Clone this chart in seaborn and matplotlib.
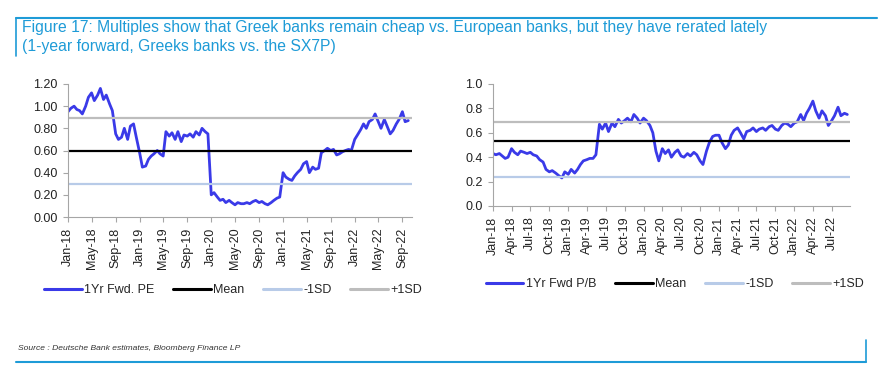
import numpy as np
import pandas as pd
import matplotlib
matplotlib.use('Agg')
import matplotlib.pyplot as plt
import matplotlib.dates as mdates
from matplotlib.lines import Line2D
from matplotlib.ticker import FormatStrFormatter
import seaborn as sns

# Greek banks vs SX7P, 1Yr forward P/E relative (semi-monthly readings)
pe_values = [
    0.95, 0.98, 1.00, 0.97, 0.96, 0.93, 1.00, 1.08, 1.12, 1.05, 1.10, 1.16,  # 2018 Jan-Jun
    1.06, 1.10, 1.02, 0.96, 0.75, 0.70, 0.72, 0.80, 0.70, 0.82, 0.84, 0.72,  # 2018 Jul-Dec
    0.58, 0.45, 0.46, 0.52, 0.55, 0.57, 0.60, 0.57, 0.55, 0.77, 0.73, 0.76,  # 2019 Jan-Jun
    0.70, 0.77, 0.68, 0.74, 0.73, 0.75, 0.72, 0.77, 0.74, 0.80, 0.77, 0.75,  # 2019 Jul-Dec
    0.20, 0.22, 0.18, 0.15, 0.16, 0.13, 0.15, 0.13, 0.11, 0.13, 0.12, 0.12,  # 2020 Jan-Jun
    0.13, 0.12, 0.14, 0.15, 0.13, 0.14, 0.12, 0.11, 0.13, 0.15, 0.17, 0.18,  # 2020 Jul-Dec
    0.40, 0.36, 0.34, 0.33, 0.37, 0.40, 0.43, 0.48, 0.50, 0.40, 0.45, 0.43,  # 2021 Jan-Jun
    0.44, 0.58, 0.60, 0.62, 0.60, 0.61, 0.56, 0.57, 0.59, 0.60, 0.61, 0.60,  # 2021 Jul-Dec
    0.70, 0.74, 0.79, 0.84, 0.80, 0.86, 0.88, 0.93, 0.86, 0.80, 0.88, 0.82,  # 2022 Jan-Jun
    0.75, 0.78, 0.84, 0.88, 0.95, 0.86, 0.87,                                # 2022 Jul-Oct
]
pe_mean, pe_minus_sd, pe_plus_sd = 0.60, 0.30, 0.89

# Greek banks vs SX7P, 1Yr forward P/B relative (semi-monthly readings)
pb_values = [
    0.43, 0.42, 0.43, 0.41, 0.39, 0.40, 0.47, 0.44, 0.42, 0.45, 0.44, 0.43,  # 2018 Jan-Jun
    0.44, 0.42, 0.41, 0.38, 0.36, 0.30, 0.28, 0.29, 0.27, 0.25, 0.23, 0.28,  # 2018 Jul-Dec
    0.26, 0.30, 0.27, 0.30, 0.34, 0.37, 0.38, 0.39, 0.39, 0.42, 0.67, 0.63,  # 2019 Jan-Jun
    0.68, 0.61, 0.68, 0.65, 0.71, 0.68, 0.70, 0.72, 0.69, 0.75, 0.72, 0.68,  # 2019 Jul-Dec
    0.72, 0.70, 0.66, 0.60, 0.45, 0.37, 0.47, 0.43, 0.46, 0.40, 0.44, 0.46,  # 2020 Jan-Jun
    0.41, 0.40, 0.43, 0.41, 0.44, 0.42, 0.37, 0.34, 0.45, 0.52, 0.57, 0.58,  # 2020 Jul-Dec
    0.58, 0.52, 0.47, 0.50, 0.58, 0.62, 0.64, 0.60, 0.55, 0.61, 0.62, 0.64,  # 2021 Jan-Jun
    0.61, 0.63, 0.64, 0.62, 0.65, 0.66, 0.63, 0.62, 0.66, 0.68, 0.67, 0.65,  # 2021 Jul-Dec
    0.68, 0.69, 0.75, 0.70, 0.76, 0.80, 0.86, 0.78, 0.72, 0.78, 0.74, 0.66,  # 2022 Jan-Jun
    0.70, 0.74, 0.81, 0.74, 0.76, 0.75,                                      # 2022 Jul-Sep
]
pb_mean, pb_minus_sd, pb_plus_sd = 0.535, 0.24, 0.69

pe_labels = ['1Yr Fwd. PE', 'Mean', '-1SD', '+1SD']
pb_labels = ['1Yr Fwd P/B', 'Mean', '-1SD', '+1SD']

title_text = ('Figure 17: Multiples show that Greek banks remain cheap vs. European banks, '
              'but they have rerated lately\n(1-year forward, Greeks banks vs. the SX7P)')
source_text = 'Source : Deutsche Bank estimates, Bloomberg Finance LP'

pe_df = pd.DataFrame({'date': pd.date_range('2018-01-01', periods=len(pe_values), freq='SMS'),
                      'value': pe_values})
pb_df = pd.DataFrame({'date': pd.date_range('2018-01-01', periods=len(pb_values), freq='SMS'),
                      'value': pb_values})

sns.set_style('white')
plt.rcParams['font.family'] = ['Liberation Sans', 'DejaVu Sans']

BLUE = '#3a3ae8'
MINUS_C = '#b8cbe8'
PLUS_C = '#bdbdbd'
FRAME = '#1e9bd7'

fig = plt.figure(figsize=(8.81, 3.77), dpi=100)
ax1 = fig.add_axes([68 / 881, 1 - 217 / 377, 344 / 881, 133 / 377])
ax2 = fig.add_axes([493 / 881, 1 - 206 / 377, 357 / 881, 122 / 377])


def draw_panel(ax, df, mean, minus_sd, plus_sd, ylim, yticks, yfmt, months, xend):
    sns.lineplot(data=df, x='date', y='value', ax=ax, color=BLUE, linewidth=2.0)
    ax.axhline(plus_sd, color=PLUS_C, linewidth=1.6)
    ax.axhline(minus_sd, color=MINUS_C, linewidth=1.6)
    ax.axhline(mean, color='black', linewidth=1.6)
    ax.set_xlim(pd.Timestamp('2018-01-01'), pd.Timestamp(xend))
    ax.set_ylim(*ylim)
    ax.set_yticks(yticks)
    ax.yaxis.set_major_formatter(FormatStrFormatter(yfmt))
    ax.xaxis.set_major_locator(mdates.MonthLocator(bymonth=months))
    ax.xaxis.set_major_formatter(mdates.DateFormatter('%b-%y'))
    ax.set_xlabel('')
    ax.set_ylabel('')
    for s in ['top', 'right']:
        ax.spines[s].set_visible(False)
    for s in ['left', 'bottom']:
        ax.spines[s].set_color('#a6a6a6')
        ax.spines[s].set_linewidth(0.8)
    ax.tick_params(axis='both', which='major', length=3.5, width=0.8, color='#a6a6a6',
                   labelsize=9, labelcolor='#222222', direction='out',
                   left=True, bottom=True, pad=4)
    plt.setp(ax.get_xticklabels(), rotation=90)
    return [Line2D([], [], color=c, linewidth=2.2) for c in [BLUE, 'black', MINUS_C, PLUS_C]]


h1 = draw_panel(ax1, pe_df, pe_mean, pe_minus_sd, pe_plus_sd,
                (0, 1.2), np.arange(0, 1.21, 0.2), '%.2f', [1, 5, 9], '2022-10-20')
h2 = draw_panel(ax2, pb_df, pb_mean, pb_minus_sd, pb_plus_sd,
                (0, 1.0), np.arange(0, 1.01, 0.2), '%.1f', [1, 4, 7, 10], '2022-09-28')

legend_kw = dict(loc='center', ncol=4, frameon=False, fontsize=9, handlelength=3.0,
                 handletextpad=0.2, columnspacing=1.5)
fig.legend(h1, pe_labels, bbox_to_anchor=(233 / 881, 1 - 290 / 377), **legend_kw)
fig.legend(h2, pb_labels, bbox_to_anchor=(675 / 881, 1 - 284 / 377), **legend_kw)

fig.text(22 / 881, 1 - 37 / 377, title_text, color=FRAME, fontsize=11.3, va='center', ha='left',
         linespacing=1.4)
fig.text(18 / 881, 1 - 348 / 377, source_text, color='#333333', fontsize=6.1, style='italic',
         va='center', ha='left')

# report frame lines
fig.add_artist(Line2D([16 / 881, 877 / 881], [1 - 18 / 377, 1 - 18 / 377], color=FRAME, linewidth=1.5))
fig.add_artist(Line2D([16 / 881, 16 / 881], [1 - 18 / 377, 1 - 56 / 377], color=FRAME, linewidth=1.2))
fig.add_artist(Line2D([16 / 881, 866 / 881], [1 - 362 / 377, 1 - 362 / 377], color=FRAME, linewidth=1.5))
fig.add_artist(Line2D([866 / 881, 866 / 881], [1 - 340 / 377, 1 - 362 / 377], color=FRAME, linewidth=1.2))

fig.savefig('out.png', dpi=100)
